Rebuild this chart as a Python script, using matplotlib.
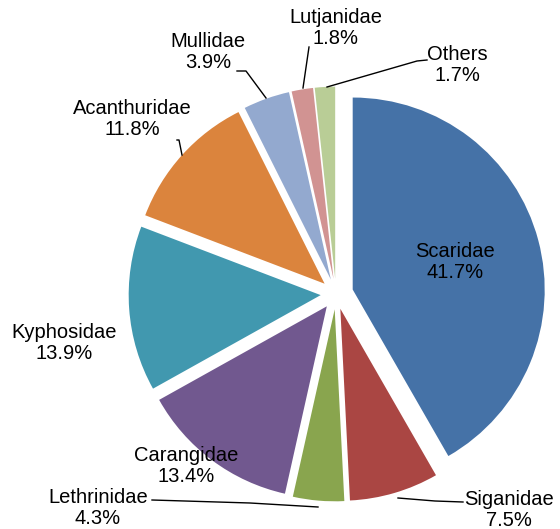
import matplotlib.pyplot as plt

# --- Data ---
families = ["Scaridae", "Siganidae", "Lethrinidae", "Carangidae", "Kyphosidae",
            "Acanthuridae", "Mullidae", "Lutjanidae", "Others"]
shares = [41.7, 7.5, 4.3, 13.4, 13.9, 11.8, 3.9, 1.8, 1.7]
colors = ["#4572A7", "#AA4643", "#89A54E", "#71588F", "#4198AF",
          "#DB843D", "#93A9CF", "#D19392", "#B9CD96"]

# --- Layout (pixel space of the 560x529 canvas) ---
CX, CY, R = 336, 294, 192


def px(x, y):
    return ((x - CX) / R, (CY - y) / R)


label_pos = {
    "Scaridae": (455, 262),
    "Siganidae": (509, 510),
    "Lethrinidae": (98, 508),
    "Carangidae": (186, 466),
    "Kyphosidae": (64, 343),
    "Acanthuridae": (132, 119),
    "Mullidae": (208, 52),
    "Lutjanidae": (336, 28),
    "Others": (457, 65),
}
leaders = {
    "Siganidae": [(398, 498), (435, 501), (463, 502)],
    "Lethrinidae": [(152, 500), (250, 503), (318, 507)],
    "Acanthuridae": [(177, 140), (179, 140), (182, 155)],
    "Mullidae": [(237, 71), (246, 71), (266, 98)],
    "Lutjanidae": [(309, 47), (303, 88)],
    "Others": [(427, 60), (417, 61), (327, 87)],
}

fig = plt.figure(figsize=(5.6, 5.29), dpi=100)
ax = fig.add_axes([0, 0, 1, 1])

explode = [0.09] + [0.08] * (len(shares) - 1)
ax.pie(shares, colors=colors, startangle=90, counterclock=False,
       explode=explode, radius=1, center=(0, 0),
       wedgeprops=dict(linewidth=0))

for name, val in zip(families, shares):
    x, y = px(*label_pos[name])
    ax.text(x, y, f"{name}\n{val:.1f}%", ha="center", va="center",
            fontsize=14.5, family="Liberation Sans", linespacing=1.08,
            color="black")

for name, pts in leaders.items():
    xs, ys = zip(*[px(*p) for p in pts])
    ax.plot(xs, ys, color="black", linewidth=1)

ax.set_xlim((0 - CX) / R, (560 - CX) / R)
ax.set_ylim((CY - 529) / R, CY / R)
ax.set_aspect("auto")
ax.axis("off")

fig.savefig("out.png", dpi=100)
